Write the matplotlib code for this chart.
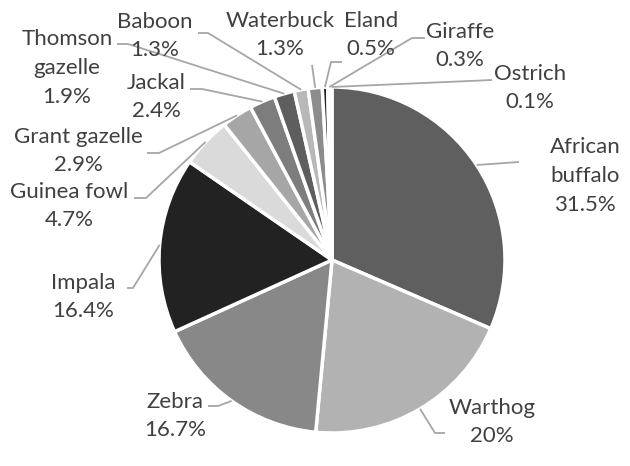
import numpy as np
import matplotlib
matplotlib.use("Agg")
import matplotlib.pyplot as plt

animals = ["African\nbuffalo", "Warthog", "Zebra", "Impala", "Guinea fowl",
           "Grant gazelle", "Jackal", "Thomson\ngazelle", "Baboon", "Waterbuck",
           "Eland", "Giraffe", "Ostrich"]
shares = [31.5, 20, 16.7, 16.4, 4.7, 2.9, 2.4, 1.9, 1.3, 1.3, 0.5, 0.3, 0.1]
greys = ["#5f5f5f", "#b2b2b2", "#888888", "#222222", "#dadada", "#a6a6a6",
         "#7d7d7d", "#5e5e5e", "#b8b8b8", "#8c8c8c", "#202020", "#e8e8e8", "#c8c8c8"]

W, H = 630, 466
CX, CY, R = 332, 260, 173

# label block centre and leader-line bend points, in pixels from top-left
label_pos = [(585, 176), (492, 422), (175, 416), (83, 297), (69, 206),
             (78, 151), (156, 97), (67, 68), (155, 36), (280, 35),
             (371, 35), (460, 46), (530, 88)]
leader_pts = [[(519, 162)],
              [(435, 433), (445, 433)],
              [(218, 406), (208, 406)],
              [(133, 288), (127, 288)],
              [(146, 198), (134, 198)],
              [(159, 153), (147, 153)],
              [(202, 89), (190, 89)],
              [(128, 44), (117, 44)],
              [(208, 33), (198, 33)],
              [(312, 65)],
              [(331, 62), (342, 62)],
              [(412, 38), (425, 38)],
              [(492, 80)]]


def px(x, y):
    return x, H - y


plt.rcParams["font.family"] = ["Lato", "DejaVu Sans"]

fig = plt.figure(figsize=(W / 100, H / 100), dpi=100)
ax = fig.add_axes([0, 0, 1, 1])

wedges, _ = ax.pie(shares, colors=greys, startangle=90, counterclock=False,
                   radius=R, center=px(CX, CY),
                   wedgeprops=dict(edgecolor="white", linewidth=2.5))

for w, name, v, pos, pts in zip(wedges, animals, shares, label_pos, leader_pts):
    mid = np.deg2rad((w.theta1 + w.theta2) / 2)
    edge = (CX + R * np.cos(mid), CY - R * np.sin(mid))
    line = [edge] + pts
    xs, ys = zip(*[px(*p) for p in line])
    ax.plot(xs, ys, color="#a6a6a6", lw=1.3, solid_capstyle="butt", zorder=1)
    ax.text(*px(*pos), f"{name}\n{v:g}%", ha="center", va="center",
            fontsize=16, color="#404040", linespacing=1.55)

ax.set_xlim(0, W)
ax.set_ylim(0, H)
ax.set_aspect("equal")
ax.axis("off")

fig.savefig("out.png", dpi=100, facecolor="white")
